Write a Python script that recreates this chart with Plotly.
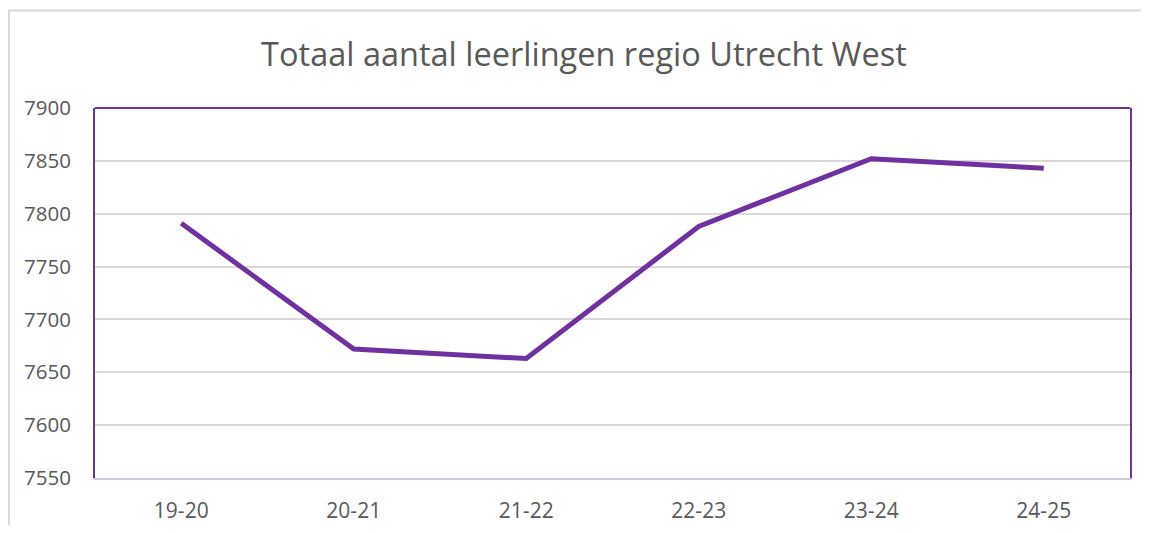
import plotly.graph_objects as go

# Schooljaren en totaal aantal leerlingen
schooljaren = ['19-20', '20-21', '21-22', '22-23', '23-24', '24-25']
leerlingen = [7791, 7672, 7663, 7788, 7852, 7843]

y_ticks = [7550, 7600, 7650, 7700, 7750, 7800, 7850, 7900]

# the page body has an 8px margin, so figure pixels sit 8px right/down;
# keep the figure small enough that no scrollbars appear
W, H = 1133, 517
L, R, T, B = 87, 11, 100, 47
plot_w = W - L - R
plot_h = H - T - B


def px_x(p):
    return (p - L) / plot_w


def px_y(p):
    return (H - B - p) / plot_h


fig = go.Figure()

fig.add_trace(go.Scatter(
    x=schooljaren,
    y=leerlingen,
    mode='lines',
    line=dict(color='#7030A0', width=5),
    hovertemplate='<b>%{x}</b><br>Leerlingen: %{y}<extra></extra>'
))

fig.update_layout(
    width=W, height=H,
    margin=dict(l=L, r=R, t=T, b=B, autoexpand=False),
    paper_bgcolor='white',
    plot_bgcolor='white',
    showlegend=False,
    font=dict(family='Open Sans', color='#595959', size=20),
    title=dict(
        text='Totaal aantal leerlingen regio Utrecht West',
        x=576 / W, xanchor='center',
        y=1 - 47 / H, yanchor='middle',
        font=dict(size=32.5, color='#595959', family='Open Sans')
    ),
    shapes=[
        # outer chart frame
        dict(type='line', xref='paper', yref='paper',
             x0=px_x(0), x1=px_x(W), y0=px_y(2.5), y1=px_y(2.5),
             line=dict(color='#d9d9d9', width=2)),
        dict(type='line', xref='paper', yref='paper',
             x0=px_x(1), x1=px_x(1), y0=px_y(2.5), y1=px_y(H),
             line=dict(color='#d9d9d9', width=2)),
        # top border of plot area
        dict(type='line', xref='paper', yref='paper',
             x0=0, x1=1, y0=1, y1=1,
             line=dict(color='#7030A0', width=2)),
    ]
)

fig.update_xaxes(
    type='category',
    range=[-0.5, 5.5],
    showgrid=False,
    showline=True, linecolor='#d0c8dc', linewidth=2,
    ticks='', ticklabelstandoff=13,
    tickfont=dict(size=21, color='#595959'),
    fixedrange=True
)

fig.update_yaxes(
    range=[7550, 7900],
    tickvals=y_ticks,
    showgrid=True, gridcolor='#d9d9d9', gridwidth=2,
    showline=True, mirror=True, linecolor='#7030A0', linewidth=2,
    zeroline=False,
    ticks='', ticklabelstandoff=18,
    tickfont=dict(size=20.5, color='#595959'),
    fixedrange=True
)

fig.write_html("out.html")
